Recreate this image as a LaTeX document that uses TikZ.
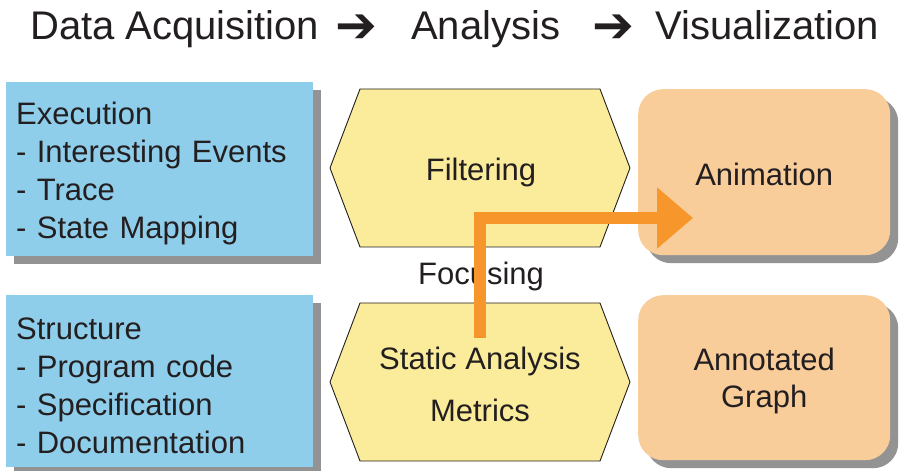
\documentclass[tikz,border=0pt]{standalone}
\usepackage{fontspec}
\setmainfont{Liberation Sans}
\newfontfamily\arrowfont{DejaVu Sans}
\usetikzlibrary{positioning,shadows,arrows.meta}

\definecolor{srcblue}{RGB}{143,206,235}
\definecolor{anayellow}{RGB}{250,236,154}
\definecolor{visorange}{RGB}{248,205,154}
\definecolor{focusorange}{RGB}{247,150,42}
\definecolor{shadowgray}{RGB}{147,147,147}
\definecolor{inkdark}{RGB}{35,31,32}

\tikzset{
  srcbox/.style={fill=srcblue, anchor=north west, minimum width=307bp, text width=287bp,
    align=left, inner sep=10bp, font=\fontsize{31bp}{38bp}\selectfont, text=inkdark,
    drop shadow={shadow xshift=8bp, shadow yshift=-8bp, fill=shadowgray, opacity=1}},
  hexbox/.style={minimum width=300bp, align=center, inner sep=0pt,
    font=\fontsize{31bp}{38bp}\selectfont, text=inkdark},
  hexline/.style={fill=anayellow, draw=inkdark, line width=0.9bp, line join=miter},
  visbox/.style={fill=visorange, rounded corners=25bp, anchor=north west, minimum width=252bp,
    align=center, font=\fontsize{31bp}{37bp}\selectfont, text=inkdark,
    drop shadow={shadow xshift=8bp, shadow yshift=-8bp, fill=shadowgray, opacity=1}},
  stagetitle/.style={anchor=base west, inner sep=0pt, font=\fontsize{40bp}{48bp}\selectfont, text=inkdark},
  stagearrow/.style={anchor=base west, inner sep=0pt, font=\arrowfont\bfseries\fontsize{50bp}{50bp}\selectfont, text=inkdark},
  focus/.style={draw=focusorange, line width=12bp, -{Triangle[length=36bp, width=59bp]}}
}

\begin{document}
\begin{tikzpicture}[x=1bp, y=-1bp]
  \useasboundingbox (0,0) rectangle (899,471);

  % stage titles
  \node[stagetitle] (acq) at (30,40) {Data Acquisition};
  \node[stagearrow] (arr1) at (335,43) {➔};
  \node[stagetitle] (ana) at (411,40) {Analysis};
  \node[stagearrow] (arr2) at (592,43) {➔};
  \node[stagetitle] (vis) at (655,40) {Visualization};

  % data sources
  \node[srcbox, minimum height=174bp] (exec) at (6,82)
    {\rule{0pt}{31bp}Execution\\- Interesting Events\\- Trace\\- State Mapping};
  \node[srcbox, minimum height=172bp] (struct) at (6,295)
    {\rule{0pt}{31bp}Structure\\- Program code\\- Specification\\- Documentation};

  % analysis hexagons
  \foreach \hx/\hy in {480/168, 480/382} {
    \draw[hexline] (\hx-150,\hy) -- (\hx-120,\hy-79) -- (\hx+120,\hy-79)
      -- (\hx+150,\hy) -- (\hx+120,\hy+79) -- (\hx-120,\hy+79) -- cycle;
  }
  \node[hexbox] (filt) at (481,172) {Filtering};
  \node[hexbox, font=\fontsize{31bp}{52bp}\selectfont] (stat) at (480,384) {Static Analysis\\Metrics};
  \node[hexbox] (foc) at (481,276) {Focusing};

  % visualizations
  \node[visbox, minimum height=166bp] (anim) at (638,89) {\rule{0pt}{26bp}Animation};
  \node[visbox, minimum height=165bp] (graph) at (638,295) {\rule{0pt}{30bp}Annotated\\Graph};

  % focusing arrow
  \coordinate (fstart) at ([yshift=46bp]stat.center);
  \coordinate (ftip) at (693,218);
  \draw[focus] (fstart) |- (ftip);
\end{tikzpicture}
\end{document}
